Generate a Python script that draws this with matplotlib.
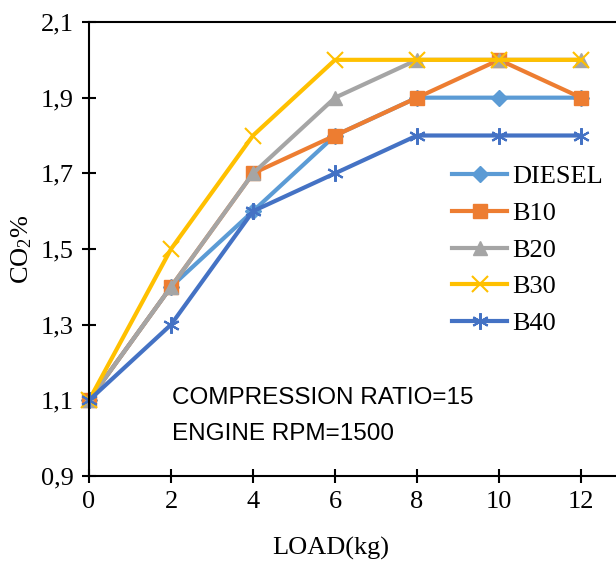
import matplotlib.pyplot as plt
from matplotlib.ticker import FuncFormatter

plt.rcParams['font.family'] = ['Liberation Serif', 'DejaVu Serif']
plt.rcParams['mathtext.default'] = 'regular'

load = [0, 2, 4, 6, 8, 10, 12]
diesel = [1.1, 1.4, 1.6, 1.8, 1.9, 1.9, 1.9]
b10 = [1.1, 1.4, 1.7, 1.8, 1.9, 2.0, 1.9]
b20 = [1.1, 1.4, 1.7, 1.9, 2.0, 2.0, 2.0]
b30 = [1.1, 1.5, 1.8, 2.0, 2.0, 2.0, 2.0]
b40 = [1.1, 1.3, 1.6, 1.7, 1.8, 1.8, 1.8]

series = [
    ('DIESEL', diesel, '#5B9BD5', 'D', 8),
    ('B10', b10, '#ED7D31', 's', 10),
    ('B20', b20, '#A5A5A5', '^', 10),
    ('B30', b30, '#FFC000', 'x', 11),
    ('B40', b40, '#4472C4', (6, 2, 0), 12),
]

fig = plt.figure(figsize=(6.16, 5.65), dpi=100)
ax = fig.add_axes([89 / 616, 1 - 476 / 565, 1 - 89 / 616, (476 - 22) / 565])

for name, vals, col, mk, ms in series:
    ax.plot(load, vals, color=col, lw=3, marker=mk, markersize=ms,
            markeredgewidth=1.5 if mk in ('x', (6, 2, 0)) else 1,
            markeredgecolor=col, label=name, clip_on=False)

ax.set_xlim(0, 12.85)
ax.set_ylim(0.9, 2.1)
ax.set_xticks(load)
ax.set_yticks([0.9, 1.1, 1.3, 1.5, 1.7, 1.9, 2.1])
ax.yaxis.set_major_formatter(FuncFormatter(lambda v, p: f'{v:.1f}'.replace('.', ',')))
ax.tick_params(direction='inout', length=10, width=1.5, labelsize=19, pad=6)
for s in ['left', 'bottom', 'top']:
    ax.spines[s].set_linewidth(1.5)
ax.spines['right'].set_visible(False)

fig.text(331 / 616, 1 - 548 / 565, 'LOAD(kg)', ha='center', va='center', fontsize=19)
fig.text(22 / 616, 1 - 249 / 565, 'CO$_2$%', ha='center', va='center',
         rotation=90, fontsize=19)

ax.text(172 / 616, 1 - 398 / 565, 'COMPRESSION RATIO=15', transform=fig.transFigure,
        family='Liberation Sans', fontsize=17.5, va='center', ha='left')
ax.text(172 / 616, 1 - 434 / 565, 'ENGINE RPM=1500', transform=fig.transFigure,
        family='Liberation Sans', fontsize=17.5, va='center', ha='left')

ax.legend(loc='upper left', bbox_to_anchor=(452 / 616, 1 - 165 / 565),
          bbox_transform=fig.transFigure, frameon=False, fontsize=19,
          borderpad=0, borderaxespad=0,
          handlelength=2.1, handletextpad=0.2, labelspacing=0.5)

fig.savefig('out.png', dpi=100)
